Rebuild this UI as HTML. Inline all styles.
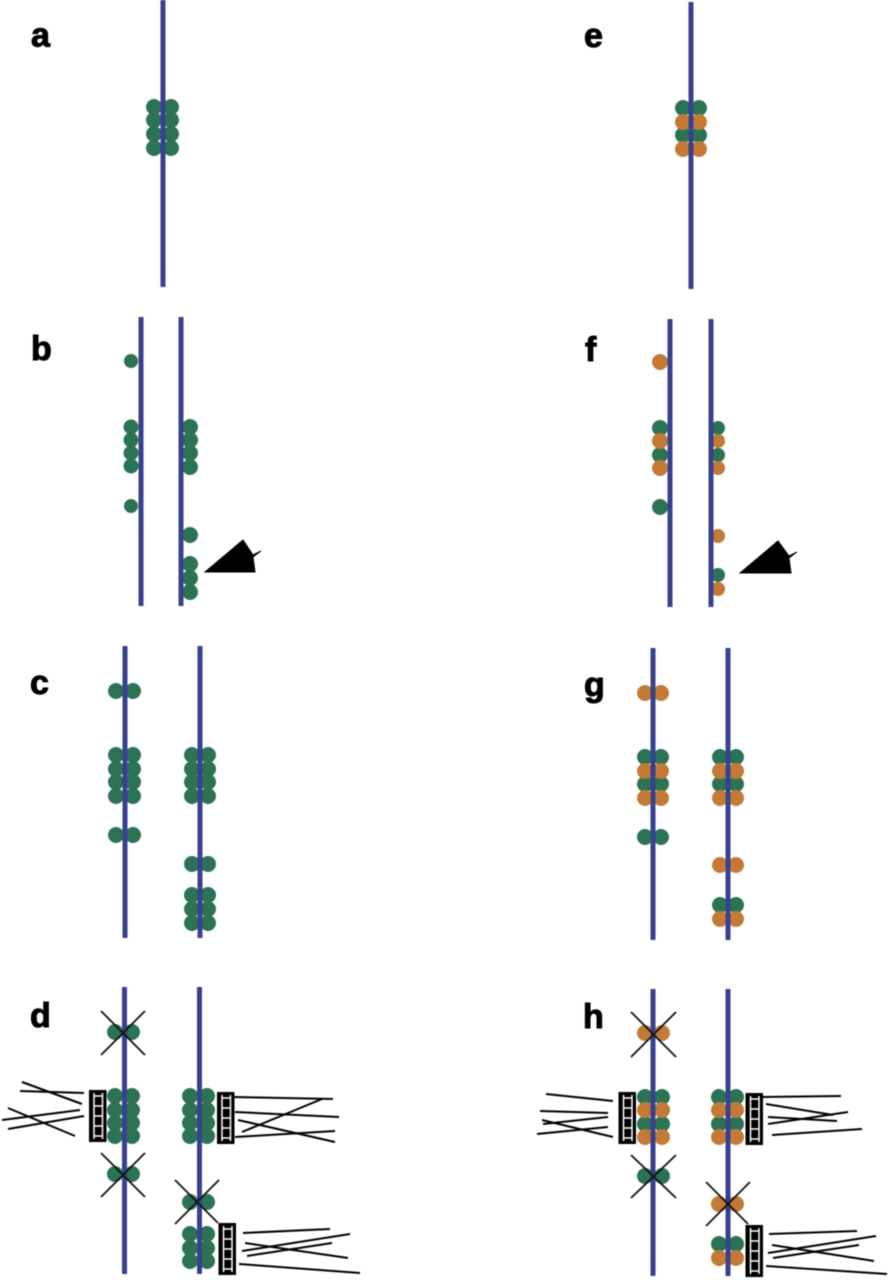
<!DOCTYPE html>
<html><head><meta charset="utf-8"><style>
html,body{margin:0;padding:0;background:#fff}
svg{display:block;filter:blur(.4px)}
text{font-family:"Liberation Sans",sans-serif;font-weight:bold;font-size:34px;fill:#000;stroke:#000;stroke-width:1}
</style></head><body>
<svg width="889" height="1280" viewBox="0 0 889 1280" xmlns="http://www.w3.org/2000/svg">
<defs>
<g id="lad"><rect x="0" y="0" width="17.500" height="52" fill="#000"/><path d="M5 3V49M13.500 3V49M5 6H13.500M5 16H13.500M5 26H13.500M5 36H13.500M5 46H13.500" stroke="#fff" stroke-width="1.500" fill="none"/></g>
</defs>
<!-- green dots -->
<g fill="#2b7352">
<circle cx="154" cy="107" r="8"/><circle cx="171" cy="107" r="8"/><circle cx="154" cy="120" r="8"/><circle cx="171" cy="120" r="8"/><circle cx="154" cy="134" r="8"/><circle cx="171" cy="134" r="8"/><circle cx="154" cy="148" r="8"/><circle cx="171" cy="148" r="8"/>
<circle cx="683" cy="108" r="8"/><circle cx="699" cy="108" r="8"/><circle cx="683" cy="135" r="8"/><circle cx="699" cy="135" r="8"/>
<circle cx="131" cy="361" r="7"/><circle cx="131" cy="427" r="7.5"/><circle cx="131" cy="440" r="7.5"/><circle cx="131" cy="453" r="7.5"/><circle cx="131" cy="466" r="7.5"/><circle cx="131" cy="506" r="7"/>
<circle cx="190" cy="427" r="8"/><circle cx="190" cy="440" r="8"/><circle cx="190" cy="453" r="8"/><circle cx="190" cy="467" r="8"/><circle cx="190" cy="535" r="8"/><circle cx="190" cy="564" r="8"/><circle cx="190" cy="578" r="8"/><circle cx="190" cy="592" r="8"/>
<circle cx="660" cy="428" r="8"/><circle cx="660" cy="455" r="8"/><circle cx="660" cy="507" r="8"/><circle cx="718" cy="428" r="7"/><circle cx="718" cy="455" r="7"/><circle cx="718" cy="575" r="7"/>
<circle cx="116" cy="691" r="8"/><circle cx="133" cy="691" r="8"/><circle cx="116" cy="755" r="8"/><circle cx="133" cy="755" r="8"/><circle cx="116" cy="769" r="8"/><circle cx="133" cy="769" r="8"/><circle cx="116" cy="782" r="8"/><circle cx="133" cy="782" r="8"/><circle cx="116" cy="796" r="8"/><circle cx="133" cy="796" r="8"/><circle cx="116" cy="835" r="8"/><circle cx="133" cy="835" r="8"/>
<circle cx="192" cy="755" r="8"/><circle cx="208" cy="755" r="8"/><circle cx="192" cy="769" r="8"/><circle cx="208" cy="769" r="8"/><circle cx="192" cy="782" r="8"/><circle cx="208" cy="782" r="8"/><circle cx="192" cy="796" r="8"/><circle cx="208" cy="796" r="8"/><circle cx="192" cy="864" r="8"/><circle cx="208" cy="864" r="8"/><circle cx="192" cy="895" r="8"/><circle cx="208" cy="895" r="8"/><circle cx="192" cy="909" r="8"/><circle cx="208" cy="909" r="8"/><circle cx="192" cy="923" r="8"/><circle cx="208" cy="923" r="8"/>
<circle cx="645" cy="757" r="8"/><circle cx="661" cy="757" r="8"/><circle cx="645" cy="784" r="8"/><circle cx="661" cy="784" r="8"/><circle cx="645" cy="837" r="8"/><circle cx="661" cy="837" r="8"/>
<circle cx="720" cy="757" r="8"/><circle cx="736" cy="757" r="8"/><circle cx="720" cy="784" r="8"/><circle cx="736" cy="784" r="8"/><circle cx="720" cy="905" r="8"/><circle cx="736" cy="905" r="8"/>
<circle cx="115" cy="1032" r="8"/><circle cx="132" cy="1032" r="8"/><circle cx="115" cy="1096" r="8"/><circle cx="132" cy="1096" r="8"/><circle cx="115" cy="1110" r="8"/><circle cx="132" cy="1110" r="8"/><circle cx="115" cy="1123" r="8"/><circle cx="132" cy="1123" r="8"/><circle cx="115" cy="1136" r="8"/><circle cx="132" cy="1136" r="8"/><circle cx="115" cy="1174" r="8"/><circle cx="132" cy="1174" r="8"/>
<circle cx="190" cy="1096" r="8"/><circle cx="207" cy="1096" r="8"/><circle cx="190" cy="1110" r="8"/><circle cx="207" cy="1110" r="8"/><circle cx="190" cy="1123" r="8"/><circle cx="207" cy="1123" r="8"/><circle cx="190" cy="1136" r="8"/><circle cx="207" cy="1136" r="8"/><circle cx="190" cy="1202" r="8"/><circle cx="207" cy="1202" r="8"/><circle cx="190" cy="1234" r="8"/><circle cx="207" cy="1234" r="8"/><circle cx="190" cy="1248" r="8"/><circle cx="207" cy="1248" r="8"/><circle cx="190" cy="1261" r="8"/><circle cx="207" cy="1261" r="8"/>
<circle cx="645" cy="1097" r="8"/><circle cx="662" cy="1097" r="8"/><circle cx="645" cy="1124" r="8"/><circle cx="662" cy="1124" r="8"/><circle cx="645" cy="1176" r="8"/><circle cx="662" cy="1176" r="8"/>
<circle cx="719" cy="1097" r="8"/><circle cx="736" cy="1097" r="8"/><circle cx="719" cy="1124" r="8"/><circle cx="736" cy="1124" r="8"/><circle cx="719" cy="1244" r="8"/><circle cx="736" cy="1244" r="8"/>
</g>
<!-- orange dots -->
<g fill="#c27a36">
<circle cx="683" cy="122" r="8"/><circle cx="699" cy="122" r="8"/><circle cx="683" cy="149" r="8"/><circle cx="699" cy="149" r="8"/>
<circle cx="660" cy="362" r="8"/><circle cx="660" cy="441" r="8"/><circle cx="660" cy="468" r="8"/><circle cx="718" cy="441" r="7"/><circle cx="718" cy="468" r="7"/><circle cx="718" cy="536" r="7"/><circle cx="718" cy="589" r="7"/>
<circle cx="645" cy="693" r="8"/><circle cx="661" cy="693" r="8"/><circle cx="645" cy="771" r="8"/><circle cx="661" cy="771" r="8"/><circle cx="645" cy="798" r="8"/><circle cx="661" cy="798" r="8"/>
<circle cx="720" cy="771" r="8"/><circle cx="736" cy="771" r="8"/><circle cx="720" cy="798" r="8"/><circle cx="736" cy="798" r="8"/><circle cx="720" cy="865" r="8"/><circle cx="736" cy="865" r="8"/><circle cx="720" cy="919" r="8"/><circle cx="736" cy="919" r="8"/>
<circle cx="645" cy="1033" r="8"/><circle cx="662" cy="1033" r="8"/><circle cx="645" cy="1110" r="8"/><circle cx="662" cy="1110" r="8"/><circle cx="645" cy="1137" r="8"/><circle cx="662" cy="1137" r="8"/>
<circle cx="719" cy="1110" r="8"/><circle cx="736" cy="1110" r="8"/><circle cx="719" cy="1137" r="8"/><circle cx="736" cy="1137" r="8"/><circle cx="719" cy="1204" r="8"/><circle cx="736" cy="1204" r="8"/><circle cx="719" cy="1258" r="8"/><circle cx="736" cy="1258" r="8"/>
</g>
<!-- chromosome lines -->
<g stroke="#38418f" stroke-width="5" fill="none">
<line x1="163" y1="0" x2="163" y2="287"/><line x1="691" y1="2" x2="691" y2="289"/>
<line x1="141" y1="317" x2="141" y2="606"/><line x1="181" y1="317" x2="181" y2="606"/>
<line x1="670" y1="319" x2="670" y2="607"/><line x1="711" y1="319" x2="711" y2="607"/>
<line x1="125" y1="646" x2="125" y2="938"/><line x1="200" y1="646" x2="200" y2="938"/>
<line x1="653" y1="648" x2="653" y2="940"/><line x1="728" y1="648" x2="728" y2="940"/>
<line x1="124.5" y1="987" x2="124.5" y2="1274"/><line x1="199.5" y1="987" x2="199.5" y2="1274"/>
<line x1="653" y1="989" x2="653" y2="1276"/><line x1="728" y1="989" x2="728" y2="1276"/>
</g>
<!-- spindles -->
<path d="M205 572L243 540L253 555L261 551L253 557L255 572Z" fill="#000" stroke="#000"/>
<path d="M740 573L778 541L789 556L797 552L789 558L791 573Z" fill="#000" stroke="#000"/>
<!-- crosses -->
<g stroke="#111" stroke-width="1.800" fill="none">
<line x1="101" y1="1011" x2="145" y2="1055"/><line x1="145" y1="1011" x2="101" y2="1055"/>
<line x1="101" y1="1153" x2="145" y2="1197"/><line x1="145" y1="1153" x2="101" y2="1197"/>
<line x1="175" y1="1180" x2="218" y2="1223"/><line x1="219" y1="1180" x2="175" y2="1224"/>
<line x1="631" y1="1012" x2="676" y2="1057"/><line x1="676" y1="1012" x2="631" y2="1057"/>
<line x1="631" y1="1155" x2="676" y2="1198"/><line x1="676" y1="1155" x2="631" y2="1198"/>
<line x1="706" y1="1182" x2="748" y2="1224"/><line x1="750" y1="1182" x2="706" y2="1226"/>
</g>
<!-- kinetochore plates -->
<use href="#lad" x="89" y="1090"/><use href="#lad" x="217" y="1092"/><use href="#lad" x="218.500" y="1223"/>
<use href="#lad" x="618.500" y="1092"/><use href="#lad" x="745.500" y="1093"/><use href="#lad" x="745.500" y="1225"/>
<!-- microtubules -->
<g stroke="#000" stroke-width="2" fill="none">
<line x1="22" y1="1082" x2="82" y2="1104"/><line x1="20" y1="1091" x2="84" y2="1093"/><line x1="8" y1="1108" x2="75" y2="1136"/><line x1="2" y1="1120" x2="80" y2="1110"/><line x1="8" y1="1129" x2="84" y2="1116"/>
<line x1="234" y1="1097" x2="333" y2="1099"/><line x1="235" y1="1112" x2="339" y2="1117"/><line x1="242" y1="1132" x2="322" y2="1099"/><line x1="238" y1="1120" x2="335" y2="1142"/><line x1="235" y1="1137" x2="335" y2="1131"/>
<line x1="243" y1="1233" x2="330" y2="1229"/><line x1="242" y1="1251" x2="350" y2="1234"/><line x1="245" y1="1243" x2="348" y2="1258"/><line x1="247" y1="1256" x2="332" y2="1243"/><line x1="239" y1="1264" x2="360" y2="1273"/>
<line x1="546" y1="1094" x2="613" y2="1101"/><line x1="540" y1="1111" x2="608" y2="1113"/><line x1="542" y1="1120" x2="613" y2="1137"/><line x1="543" y1="1124" x2="608" y2="1117"/><line x1="537" y1="1134" x2="608" y2="1127"/>
<line x1="762" y1="1097" x2="841" y2="1096"/><line x1="766" y1="1104" x2="833" y2="1115"/><line x1="768" y1="1117" x2="837" y2="1121"/><line x1="768" y1="1124" x2="848" y2="1112"/><line x1="772" y1="1135" x2="862" y2="1129"/>
<line x1="769" y1="1234" x2="857" y2="1231"/><line x1="768" y1="1253" x2="876" y2="1236"/><line x1="772" y1="1245" x2="874" y2="1261"/><line x1="773" y1="1258" x2="859" y2="1245"/><line x1="766" y1="1266" x2="887" y2="1274"/>
</g>
<!-- labels -->
<text x="31" y="46.500">a</text><text x="31" y="360">b</text><text x="30" y="694">c</text><text x="30" y="1027">d</text>
<text x="584" y="47">e</text><text x="585" y="361">f</text><text x="584" y="696">g</text><text x="583" y="1028">h</text>
</svg>
</body></html>
